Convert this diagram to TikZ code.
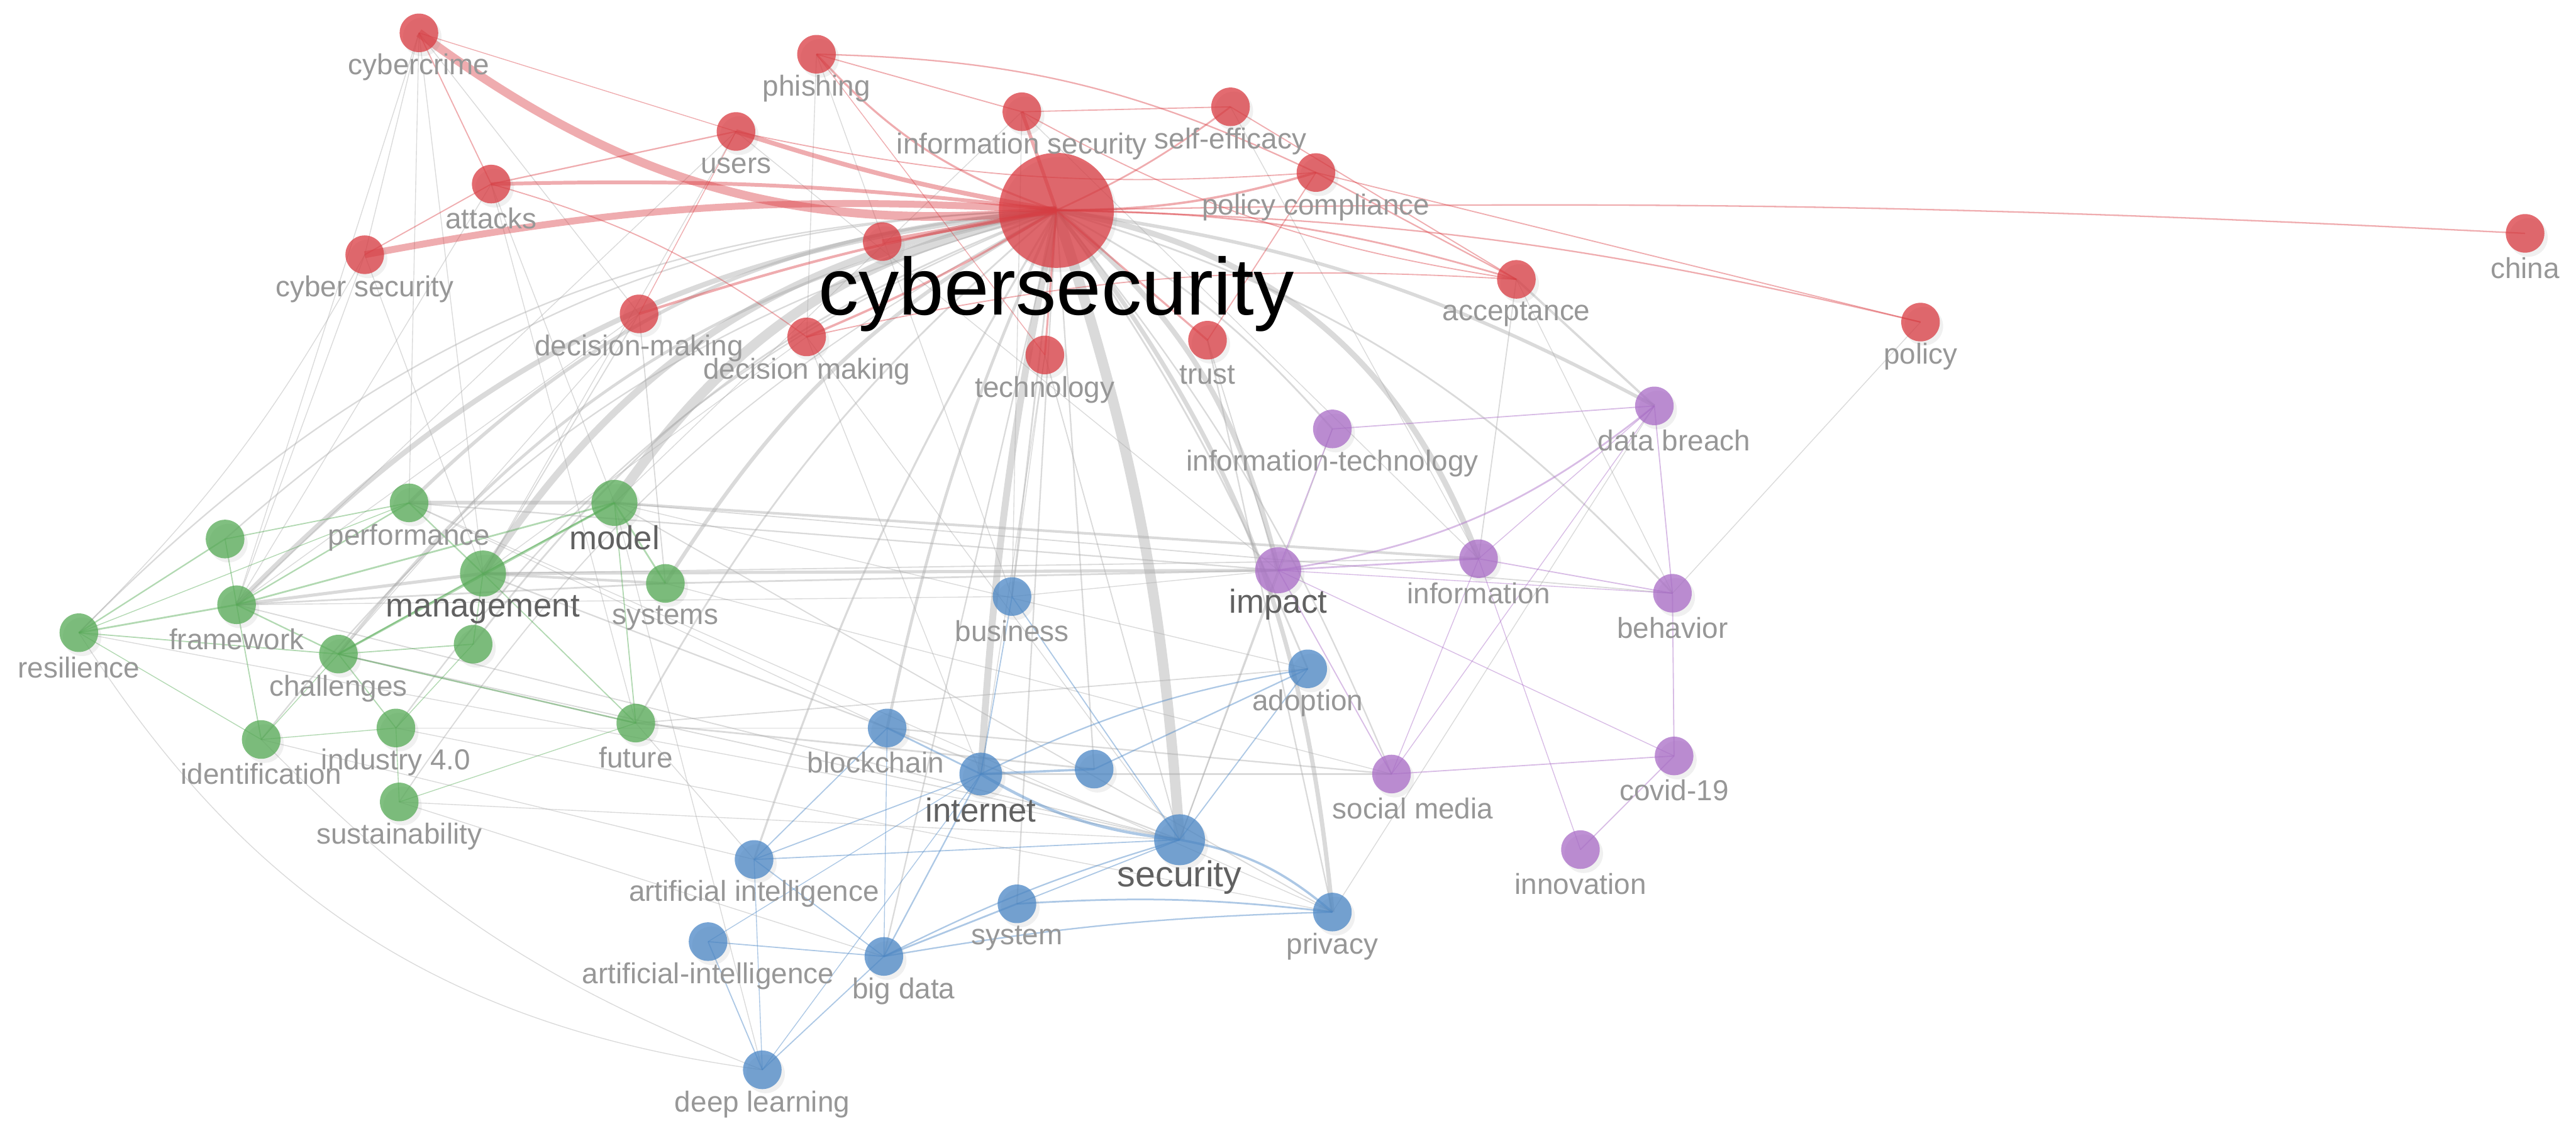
\documentclass[tikz,border=0pt]{standalone}
\usepackage{fontspec}
\setmainfont{Liberation Sans}
\usetikzlibrary{backgrounds, shadows}
\definecolor{vred}{HTML}{D93A40}
\definecolor{vgreen}{HTML}{55AA55}
\definecolor{vblue}{HTML}{4A86C5}
\definecolor{vpurple}{HTML}{A86BC6}
\definecolor{vlabel}{HTML}{979797}
\definecolor{vlink}{HTML}{A8A8A8}

\tikzset{
  kw/.style={circle, inner sep=0pt, minimum size=4.7mm, fill opacity=.75,
    drop shadow={opacity=.12, shadow xshift=.4mm, shadow yshift=-.5mm}},
  kwlbl/.style={text=vlabel, font=\fontsize{10}{10}\selectfont, inner sep=0pt},
  kwbold/.style={text=black!62, font=\fontsize{11.5}{12}\selectfont, inner sep=0pt},
  link/.style={vlink, opacity=.42},
  redlink/.style={vred, opacity=.42},
  greenlink/.style={vgreen, opacity=.45},
  bluelink/.style={vblue, opacity=.45},
  purplelink/.style={vpurple, opacity=.45}
}

\def\redkw{ccr/255/20/0/cybercrime, phi/497/33/0/phishing, usr/448/80/0/users,
  isec/622/68/0/information security, seff/749/65/0/self-efficacy,
  pcom/801/105/0/policy compliance, att/299/112/0/attacks, csec/222/155/0/cyber security,
  dmh/389/191/0/decision-making, dms/491/205/0/decision making, tech/636/216/0/technology,
  trust/735/207/0/trust, acc/923/170/0/acceptance, pol/1169/196/0/policy, chn/1537/142/0/china}
\def\purplekw{itec/811/261/0/information-technology, dbr/1007/247/12/data breach,
  info/900/340/0/information, beh/1018/361/0/behavior, soc/847/471/13/social media,
  cov/1019/460/0/covid-19, inn/962/517/0/innovation}
\def\bluekw{bus/616/363/0/business, adp/796/407/0/adoption, blk/540/443/-7/blockchain,
  ai1/459/523/0/artificial intelligence, sys/619/550/0/system, prv/811/555/0/privacy,
  ai2/431/573/0/artificial-intelligence, bgd/538/582/12/big data, dl/464/651/0/deep learning}
\def\greenkw{perf/249/306/0/performance, frm/144/368/0/framework, sys2/405/355/0/systems,
  res/48/385/0/resilience, chl/206/398/0/challenges, fut/387/440/0/future,
  idn/159/450/0/identification, ind/241/443/0/industry 4.0, sus/243/488/0/sustainability}

\begin{document}
\begin{tikzpicture}[x=0.2mm, y=-0.2mm]
  \useasboundingbox (0,0) rectangle (1568,692.4);

  % keyword circles
  \foreach \n/\x/\y/\dx/\t in \redkw {\node[kw, fill=vred] (\n) at (\x,\y) {};}
  \foreach \n/\x/\y/\dx/\t in \purplekw {\node[kw, fill=vpurple] (\n) at (\x,\y) {};}
  \foreach \n/\x/\y/\dx/\t in \bluekw {\node[kw, fill=vblue] (\n) at (\x,\y) {};}
  \foreach \n/\x/\y/\dx/\t in \greenkw {\node[kw, fill=vgreen] (\n) at (\x,\y) {};}
  \node[kw, fill=vred] (rx) at (537,147) {};
  \node[kw, fill=vblue] (bx) at (666,468) {};
  \node[kw, fill=vgreen] (gx1) at (137,328) {};
  \node[kw, fill=vgreen] (gx2) at (288,392) {};
  \node[kw, fill=vgreen, minimum size=5.6mm] (mod) at (374,306) {};
  \node[kw, fill=vgreen, minimum size=5.6mm] (mgt) at (294,349) {};
  \node[kw, fill=vpurple, minimum size=5.6mm] (imp) at (778,347) {};
  \node[kw, fill=vblue, minimum size=5.2mm] (int) at (597,471) {};
  \node[kw, fill=vblue, minimum size=6.2mm] (sec) at (718,511) {};
  \node[kw, fill=vred, minimum size=14mm] (cs) at (643,128) {};

  % links
  \begin{scope}[on background layer]
    \foreach \a/\b/\w/\bd in {cs/mod/3.4/-22, cs/mgt/2.4/-24, cs/frm/1.8/-20, cs/perf/1.2/-20,
        cs/sys2/1.3/-14, cs/chl/1.0/-20, cs/sec/3.6/7, cs/int/2.4/-4, cs/imp/1.8/18,
        cs/info/2.0/30, cs/prv/1.5/16, cs/dbr/1.2/10, cs/blk/1.0/-6, cs/bus/0.6/0,
        cs/ai1/0.7/-6, cs/adp/0.6/6, cs/fut/0.6/-10, cs/idn/0.5/-18, cs/ind/0.5/-16,
        cs/gx2/0.6/-16, cs/res/0.5/-22, cs/itec/0.6/10, cs/soc/0.5/8, cs/beh/0.6/15,
        cs/bgd/0.5/0, cs/sys/0.5/0, cs/bx/0.5/0, cs/gx1/0.5/-20, cs/sus/0.4/-14,
        perf/mod/1.3/0, mod/info/0.9/0, mgt/imp/1.1/0, frm/mgt/1.1/0, mgt/sys2/0.9/0,
        frm/sys2/0.6/0, sys2/imp/0.6/0, perf/imp/0.5/0, blk/soc/0.5/0, int/soc/0.5/0,
        sec/imp/0.5/0, fut/bx/0.6/0, ccr/csec/0.3/0, ccr/frm/0.3/0, ccr/mgt/0.3/0,
        ccr/dmh/0.3/0, ccr/perf/0.3/0, csec/res/0.3/8, csec/frm/0.3/0, csec/mgt/0.3/0,
        res/dl/0.3/-25, idn/dl/0.3/-12, sus/bgd/0.3/0, att/mod/0.3/0, att/fut/0.3/0,
        dmh/mgt/0.4/0, dmh/frm/0.3/0, dmh/sys2/0.4/0, dmh/chl/0.3/0, dms/int/0.3/0,
        dms/sec/0.3/0, tech/bus/0.3/0, tech/int/0.3/0, trust/prv/0.5/0, trust/imp/0.4/0,
        acc/dbr/0.8/0, acc/info/0.4/0, acc/beh/0.3/0, pol/beh/0.3/0, seff/info/0.3/0,
        mod/prv/0.4/0, mgt/sec/0.5/0, frm/sec/0.4/0, res/sec/0.3/0, chl/fut/0.5/0,
        perf/prv/0.3/0, frm/bus/0.3/0, ind/blk/0.3/0, sus/sec/0.3/0, idn/ai1/0.3/0,
        usr/imp/0.3/0, phi/bus/0.3/0, isec/bus/0.3/0, isec/mod/0.3/0, usr/mgt/0.3/0,
        ai1/fut/0.3/0, dl/mod/0.3/0, mod/beh/0.4/0, mgt/info/0.4/0, sys2/soc/0.3/0,
        fut/adp/0.4/0, chl/sec/0.4/0, ind/prv/0.3/0, perf/blk/0.3/0, mod/adp/0.3/0,
        bus/imp/0.3/0, tech/sec/0.4/0, itec/sec/0.3/0, dbr/prv/0.3/0, att/frm/0.3/0,
        dms/mgt/0.3/0, isec/info/0.3/0, usr/frm/0.3/0, phi/dms/0.3/0}
      \draw[link, line width=\w pt] (\a.center) to[bend left=\bd] (\b.center);
    \foreach \a/\b/\w/\bd in {cs/ccr/3.0/21, cs/csec/2.4/-7, cs/att/1.3/-4, cs/usr/1.6/4,
        cs/phi/0.7/14, cs/isec/1.2/0, cs/seff/0.6/-6, cs/pcom/0.8/-8, cs/rx/1.6/0,
        cs/acc/0.6/8, cs/chn/0.5/2, cs/pol/0.5/6, cs/trust/0.7/0, cs/tech/0.7/0,
        cs/dmh/0.9/-4, cs/dms/0.8/4, phi/pcom/0.5/12, isec/acc/0.4/-10, ccr/att/0.4/0,
        usr/pcom/0.4/-8, att/usr/0.5/0, csec/att/0.4/0, usr/dmh/0.3/0, att/dms/0.4/10,
        seff/acc/0.4/0, pcom/acc/0.5/0, isec/seff/0.4/0, ccr/usr/0.3/0, dms/acc/0.4/8,
        trust/pcom/0.4/0, phi/isec/0.4/0, pol/pcom/0.4/0, phi/tech/0.3/0}
      \draw[redlink, line width=\w pt] (\a.center) to[bend left=\bd] (\b.center);
    \foreach \a/\b/\w in {frm/res/0.6, gx1/res/0.5, frm/perf/0.5, frm/mod/0.6, frm/chl/0.5,
        frm/idn/0.4, chl/mod/0.8, chl/mgt/0.5, perf/mgt/0.5, mgt/mod/0.5, mod/sys2/0.6,
        mgt/fut/0.4, chl/ind/0.4, idn/ind/0.3, ind/sus/0.3, gx2/mgt/0.4, gx2/chl/0.4,
        gx1/frm/0.4, gx1/perf/0.4, res/chl/0.4, res/idn/0.3, fut/chl/0.5, res/perf/0.3,
        idn/chl/0.3, sus/fut/0.3, fut/mod/0.4, gx2/ind/0.3}
      \draw[greenlink, line width=\w pt] (\a.center) -- (\b.center);
    \foreach \a/\b/\w/\bd in {int/sec/1.0/-12, int/bx/0.8/0, sec/prv/0.8/15, sys/prv/0.6/5,
        bgd/sys/0.6/0, bgd/prv/0.5/4, blk/int/0.6/0, bgd/sec/0.5/5, ai1/sec/0.4/0,
        ai1/int/0.4/0, ai2/bgd/0.4/0, dl/ai2/0.4/0, dl/bgd/0.4/0, dl/int/0.3/0,
        int/adp/0.5/8, bx/adp/0.5/0, sec/adp/0.4/0, blk/ai1/0.4/0, bus/int/0.4/0,
        bus/sec/0.4/0, blk/bgd/0.3/0, int/bgd/0.5/0, ai1/bgd/0.4/0, sys/sec/0.4/0,
        dl/ai1/0.3/0, ai2/int/0.3/0}
      \draw[bluelink, line width=\w pt] (\a.center) to[bend left=\bd] (\b.center);
    \foreach \a/\b/\w/\bd in {imp/info/0.6/0, imp/dbr/0.6/-15, dbr/itec/0.4/0, info/beh/0.4/0,
        beh/dbr/0.4/0, cov/soc/0.4/0, cov/inn/0.4/0, beh/cov/0.4/0, imp/soc/0.4/0,
        info/soc/0.3/0, imp/cov/0.3/0, imp/beh/0.3/0, dbr/soc/0.3/0, itec/imp/0.4/0,
        info/inn/0.3/0, dbr/info/0.3/0}
      \draw[purplelink, line width=\w pt] (\a.center) to[bend left=\bd] (\b.center);
  \end{scope}

  % keyword labels
  \foreach \n/\x/\y/\dx/\t in \redkw {\node[kwlbl] (\n-l) at (\x+\dx,\y+21) {\t};}
  \foreach \n/\x/\y/\dx/\t in \purplekw {\node[kwlbl] (\n-l) at (\x+\dx,\y+21) {\t};}
  \foreach \n/\x/\y/\dx/\t in \bluekw {\node[kwlbl] (\n-l) at (\x+\dx,\y+21) {\t};}
  \foreach \n/\x/\y/\dx/\t in \greenkw {\node[kwlbl] (\n-l) at (\x+\dx,\y+21) {\t};}
  \node[kwbold] (mod-l) at (374,327) {model};
  \node[kwbold] (mgt-l) at (294,371) {management};
  \node[kwbold] (imp-l) at (778,368) {impact};
  \node[kwbold] (int-l) at (597,493) {internet};
  \node[kwbold, font=\fontsize{12.5}{13}\selectfont] (sec-l) at (718,534) {security};
  \node[inner sep=0pt, font=\fontsize{28}{28}\selectfont] (cs-l) at (643,179) {cybersecurity};
\end{tikzpicture}
\end{document}
